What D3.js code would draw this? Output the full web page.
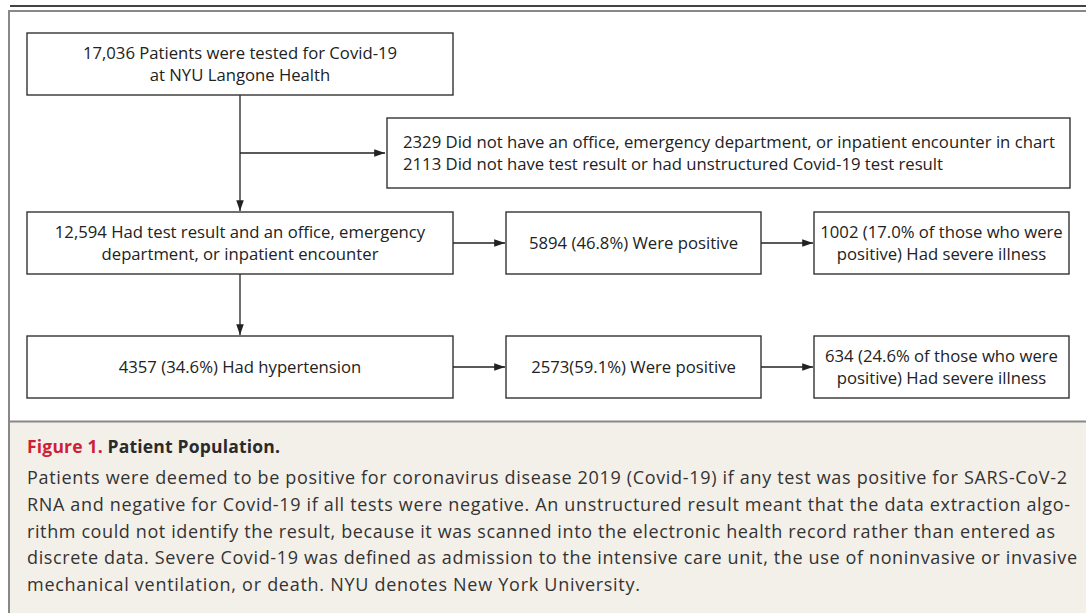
<!DOCTYPE html>
<html>
<head>
<meta charset="utf-8">
<script src="https://cdn.jsdelivr.net/npm/d3@7"></script>
<style>
  body { margin: 0; background: #fff; }
  svg { display: block; font-family: "Open Sans", Lato, sans-serif; }
</style>
</head>
<body>
<div id="chart"></div>
<script>
// flowchart boxes: text lines, column and row slot
const boxIds = ["tested", "excluded", "included", "positive", "severe", "hyper", "hyperPos", "hyperSevere"]
const boxLines = [
  ["17,036 Patients were tested for Covid-19", "at NYU Langone Health"],
  ["2329 Did not have an office, emergency department, or inpatient encounter in chart",
   "2113 Did not have test result or had unstructured Covid-19 test result"],
  ["12,594 Had test result and an office, emergency", "department, or inpatient encounter"],
  ["5894 (46.8%) Were positive"],
  ["1002 (17.0% of those who were", "positive) Had severe illness"],
  ["4357 (34.6%) Had hypertension"],
  ["2573(59.1%) Were positive"],
  ["634 (24.6% of those who were", "positive) Had severe illness"]
]
const boxCols = ["main", "side", "main", "mid", "right", "main", "mid", "right"]
const boxRows = ["top", "exclude", "cohort", "cohort", "cohort", "hyper", "hyper", "hyper"]

// arrows between boxes
const edgeFrom = ["tested", "tested", "included", "included", "positive", "hyper", "hyperPos"]
const edgeTo   = ["included", "excluded", "hyper", "positive", "severe", "hyperPos", "hyperSevere"]

const captionTitle = ["Figure 1.", "Patient Population."]
const captionLines = [
  "Patients were deemed to be positive for coronavirus disease 2019 (Covid-19) if any test was positive for SARS-CoV-2",
  "RNA and negative for Covid-19 if all tests were negative. An unstructured result meant that the data extraction algo-",
  "rithm could not identify the result, because it was scanned into the electronic health record rather than entered as",
  "discrete data. Severe Covid-19 was defined as admission to the intensive care unit, the use of noninvasive or invasive",
  "mechanical ventilation, or death. NYU denotes New York University."
]

const W = 1086, H = 613

// layout scales
const colLeft = d3.scaleOrdinal().domain(["main", "side", "mid", "right"]).range([27, 387, 506, 814])
const colRight = d3.scaleOrdinal().domain(["main", "side", "mid", "right"]).range([453, 1070, 761, 1069])
const rowTop = d3.scaleOrdinal().domain(["top", "exclude", "cohort", "hyper"]).range([33, 118, 212, 336])
const rowBottom = d3.scaleOrdinal().domain(["top", "exclude", "cohort", "hyper"]).range([95, 188, 274, 398])

const boxes = boxIds.map((id, i) => ({
  id: id,
  lines: boxLines[i],
  x0: colLeft(boxCols[i]), x1: colRight(boxCols[i]),
  y0: rowTop(boxRows[i]), y1: rowBottom(boxRows[i]),
  left: boxCols[i] == "side"
}))
const byId = {}
boxes.forEach(b => byId[b.id] = b)

const svg = d3.select("#chart").append("svg")
  .attr("width", W)
  .attr("height", H)

svg.append("defs").append("marker")
  .attr("id", "arrow")
  .attr("markerUnits", "userSpaceOnUse")
  .attr("viewBox", "0 0 12 10")
  .attr("refX", 12).attr("refY", 5)
  .attr("markerWidth", 12).attr("markerHeight", 9)
  .attr("orient", "auto")
  .append("path")
  .attr("d", "M0,0.8 L12,5 L0,9.2 Z")
  .attr("fill", "#222")

// frame and caption panel
const captionTop = 422
svg.append("rect")
  .attr("x", 9).attr("y", captionTop)
  .attr("width", W - 9).attr("height", H - captionTop)
  .attr("fill", "#f3f0ea")
svg.append("line")
  .attr("x1", 10).attr("x2", W).attr("y1", 6).attr("y2", 6)
  .attr("stroke", "#444").attr("stroke-width", 2)
svg.append("line")
  .attr("x1", 8).attr("x2", W).attr("y1", 11).attr("y2", 11)
  .attr("stroke", "#888").attr("stroke-width", 2)
svg.append("line")
  .attr("x1", 9).attr("x2", 9).attr("y1", 10).attr("y2", H)
  .attr("stroke", "#888").attr("stroke-width", 2)
svg.append("line")
  .attr("x1", 8).attr("x2", W).attr("y1", captionTop - 0.5).attr("y2", captionTop - 0.5)
  .attr("stroke", "#888").attr("stroke-width", 2)

// arrows
const line = d3.line()
function edgePoints(a, b) {
  let cx = (a.x0 + a.x1) / 2
  if (b.y0 > a.y1 && b.x0 <= cx && b.x1 >= cx) {
    return [[cx, a.y1], [cx, b.y0 - 1]]
  }
  if (b.y0 > a.y0 && b.y0 < rowTop("cohort")) {
    let y = (b.y0 + b.y1) / 2
    return [[cx, y], [b.x0 - 2, y]]
  }
  let y = (a.y0 + a.y1) / 2
  return [[a.x1, y], [b.x0 - 1, y]]
}
svg.append("g")
  .selectAll("path")
  .data(edgeFrom.map((f, i) => edgePoints(byId[f], byId[edgeTo[i]])))
  .enter()
  .append("path")
  .attr("d", line)
  .attr("fill", "none")
  .attr("stroke", "#222")
  .attr("stroke-width", 1.3)
  .attr("marker-end", "url(#arrow)")

// boxes
const g = svg.append("g")
  .selectAll("g")
  .data(boxes)
  .enter()
  .append("g")

g.append("rect")
  .attr("x", d => d.x0).attr("y", d => d.y0)
  .attr("width", d => d.x1 - d.x0).attr("height", d => d.y1 - d.y0)
  .attr("fill", "#fff")
  .attr("stroke", "#333")
  .attr("stroke-width", 1.4)

const lineGap = 21.5
g.each(function(d) {
  let n = d.lines.length
  let cy = (d.y0 + d.y1) / 2
  d3.select(this).selectAll("text")
    .data(d.lines)
    .enter()
    .append("text")
    .attr("x", d.left ? d.x0 + 16 : (d.x0 + d.x1) / 2)
    .attr("y", (t, i) => cy + 5.8 + (i - (n - 1) / 2) * lineGap)
    .attr("text-anchor", d.left ? "start" : "middle")
    .attr("font-size", d.left ? 16 : 16.7)
    .attr("fill", "#222")
    .text(t => t)
    .each(function(t, i) {
      if (d.left) {
        d3.select(this)
          .attr("textLength", i == 0 ? 652 : 540)
          .attr("lengthAdjust", "spacingAndGlyphs")
      }
    })
})

// caption
const title = svg.append("text")
  .attr("x", 27).attr("y", 452.5)
  .attr("font-size", 17.5)
  .attr("font-weight", "bold")
  .attr("textLength", 253)
  .attr("lengthAdjust", "spacing")
title.append("tspan").attr("fill", "#cf1f36").text(captionTitle[0] + " ")
title.append("tspan").attr("fill", "#2a2a2a").text(captionTitle[1])

const justify = [1040, 1043, 1028, 1050, 613]
svg.append("g")
  .selectAll("text")
  .data(captionLines)
  .enter()
  .append("text")
  .attr("x", 27)
  .attr("y", (d, i) => 484.3 + i * 26.6)
  .attr("font-size", 18)
  .attr("fill", "#333")
  .attr("textLength", (d, i) => justify[i])
  .attr("lengthAdjust", "spacing")
  .text(d => d)
</script>
</body>
</html>
